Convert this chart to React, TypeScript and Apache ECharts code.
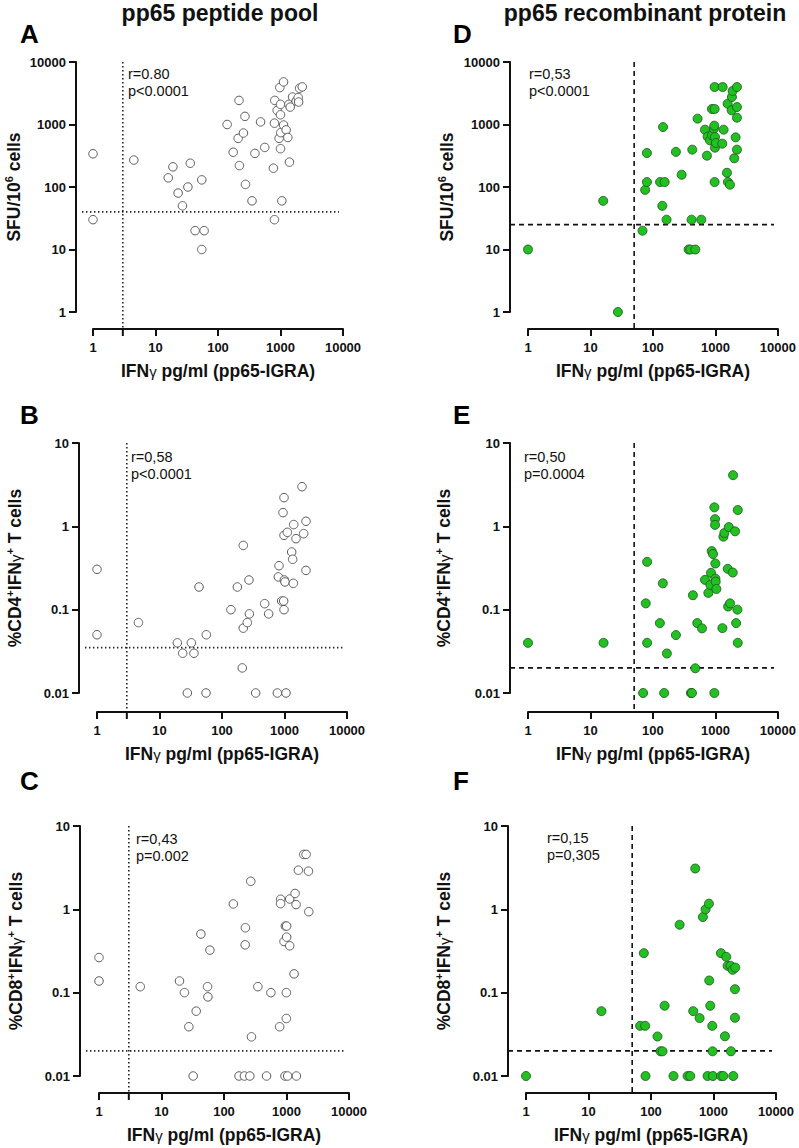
import React, { useEffect, useRef } from "react";
import * as echarts from "echarts";

const FONT = '"Liberation Sans", Arial, Helvetica, sans-serif';

// ---- Panel A: SFU/10^6 cells vs IFN-γ (peptide pool) ----
const igraA = [1, 1, 4.5, 16, 19, 23, 27, 33, 36, 43, 60, 55, 55, 140, 175, 210, 217, 220, 255, 270, 275, 350, 390, 480, 560, 770, 800, 800, 810, 885, 950, 975, 1000, 1000, 1000, 1010, 1050, 1120, 1120, 1230, 1310, 1360, 1390, 1430, 1560, 1780, 1920, 1950, 2020, 2230];
const sfuA = [340, 30, 270, 140, 210, 80, 50, 100, 240, 20, 20, 10, 130, 1000, 360, 600, 2430, 220, 730, 1350, 110, 60, 345, 1100, 430, 200, 30, 1050, 2430, 1680, 600, 3900, 2100, 1430, 410, 740, 60, 4800, 980, 820, 620, 2100, 250, 1900, 2750, 2370, 2700, 2290, 3800, 4000];

// ---- Panel B: %CD4+IFNγ+ vs IFN-γ (peptide pool) ----
const igraB = [1, 1, 4.6, 19.3, 23.5, 27.9, 32.3, 35.6, 42.9, 55.5, 56.1, 139, 176, 211, 219, 219, 254, 270, 274, 346, 482, 558, 768, 796, 817, 901, 946, 970, 982, 982, 982, 994, 1018, 1057, 1109, 1303, 1352, 1403, 1384, 1528, 1905, 2027, 2208, 2208];
const cd4B = [0.305, 0.05, 0.07, 0.04, 0.03, 0.01, 0.04, 0.03, 0.187, 0.01, 0.05, 0.1, 0.187, 0.02, 0.59, 0.06, 0.07, 0.227, 0.089, 0.01, 0.118, 0.089, 0.01, 0.247, 0.337, 0.127, 1.46, 0.127, 2.21, 0.1, 0.78, 0.227, 0.215, 0.01, 0.847, 0.492, 0.402, 1.05, 0.207, 0.711, 2.99, 0.817, 1.15, 0.296];

// ---- Panel C: %CD8+IFNγ+ vs IFN-γ (peptide pool) ----
const igraC = [1, 1, 4.57, 19.4, 23.3, 27.4, 32.1, 35.9, 42.7, 54.6, 55.3, 59.5, 141, 174, 212, 218, 220, 259, 268, 275, 348, 480, 563, 776, 805, 805, 912, 946, 958, 994, 994, 1006, 1006, 1045, 1125, 1125, 1321, 1371, 1422, 1439, 1549, 1888, 2059, 2246, 2274];
const cd8C = [0.264, 0.138, 0.118, 0.138, 0.1, 0.039, 0.01, 0.06, 0.505, 0.118, 0.089, 0.324, 1.16, 0.01, 0.01, 0.375, 0.601, 0.01, 2.17, 0.0295, 0.118, 0.01, 0.1, 0.039, 1.32, 1.17, 0.411, 0.01, 0.63, 0.1, 0.049, 0.464, 0.63, 0.01, 1.33, 0.365, 0.168, 1.55, 1.14, 0.01, 2.95, 4.56, 4.56, 2.87, 0.937];

// ---- Panel D: SFU/10^6 cells vs IFN-γ (recombinant protein) ----
const igraD = [1, 16, 27.5, 68, 75, 80, 80, 130, 141, 145, 154, 165, 233, 288, 372, 396, 415, 426, 476, 518, 593, 679, 731, 750, 817, 879, 879, 946, 958, 970, 970, 970, 982, 982, 1019, 1286, 1303, 1352, 1528, 1567, 1585, 1706, 1815, 1837, 1884, 2000, 2103, 2208, 2208, 2208, 2208];
const sfuD = [10, 60, 1, 20, 90, 120, 350, 120, 50, 910, 120, 30, 365, 157, 10, 10, 30, 396, 10, 1240, 30, 826, 317, 638, 558, 1770, 671, 858, 958, 3980, 1770, 120, 426, 631, 506, 493, 3980, 826, 169, 2153, 120, 109, 1686, 2754, 3436, 288, 623, 3980, 1905, 1285, 396];

// ---- Panel E: %CD4+IFNγ+ vs IFN-γ (recombinant protein) ----
const igraE = [1, 16.2, 69.5, 76.7, 80.6, 80.6, 129, 144, 151, 167, 233, 405, 421, 436, 476, 512, 609, 680, 770, 829, 849, 871, 914, 961, 961, 985, 985, 997, 997, 1009, 1035, 1292, 1341, 1390, 1573, 1593, 1633, 1714, 1893, 1915, 2064, 2143, 2249, 2276, 2276];
const cd4E = [0.04, 0.04, 0.01, 0.119, 0.375, 0.04, 0.069, 0.207, 0.01, 0.0298, 0.0496, 0.01, 0.01, 0.149, 0.0198, 0.069, 0.0596, 0.228, 0.159, 0.198, 0.277, 0.505, 0.465, 1.69, 0.01, 1.22, 1.04, 0.358, 0.236, 0.217, 0.177, 0.06, 0.751, 0.832, 0.309, 0.109, 0.98, 0.119, 0.279, 4.11, 0.871, 0.069, 0.1, 1.57, 0.04];

// ---- Panel F: %CD8+IFNγ+ vs IFN-γ (recombinant protein) ----
const igraF = [1, 16.1, 67, 76.8, 80.7, 81.7, 127, 142, 153, 165, 229, 287, 385, 424, 474, 510, 599, 676, 747, 804, 845, 855, 887, 955, 966, 979, 1315, 1315, 1432, 1524, 1600, 1682, 1879, 1901, 2023, 2072, 2230, 2203, 2203];
const cd8F = [0.01, 0.06, 0.04, 0.298, 0.04, 0.01, 0.0298, 0.0198, 0.0198, 0.0697, 0.01, 0.653, 0.01, 0.01, 0.06, 3.09, 0.0495, 0.809, 1, 0.01, 1.17, 0.14, 0.0697, 0.04, 0.0198, 0.01, 0.01, 0.298, 0.01, 0.03, 0.269, 0.21, 0.21, 0.0198, 0.188, 0.01, 0.2, 0.11, 0.05];

// Positivity cut-offs (x: IGRA pg/ml, y: read-out)
const cutoffX = [3, 3, 3, 50, 50, 50];
const cutoffY = [40, 0.035, 0.02, 25, 0.02, 0.02];

// Correlation statistics
const rLabels = ["r=0.80", "r=0,58", "r=0,43", "r=0,53", "r=0,50", "r=0,15"];
const pLabels = ["p<0.0001", "p<0.0001", "p=0.002", "p<0.0001", "p=0.0004", "p=0,305"];

const panelLetters = ["A", "B", "C", "D", "E", "F"];
const columnTitles = ["pp65 peptide pool", "pp65 recombinant protein"];

const X_TITLE = "{b|IFN}{g|γ}{b| pg/ml (pp65-IGRA)}";
const Y_SFU = "{b|SFU/10}{s|6}{b| cells}";
const Y_CD4 = "{b|%CD4}{s|+}{b|IFN}{g|γ}{s|+}{b| T cells}";
const Y_CD8 = "{b|%CD8}{s|+}{b|IFN}{g|γ}{s|+}{b| T cells}";

const GW = 250;
const GH = 250;

type Panel = {
  xs: number[];
  ys: number[];
  yMin: number;
  yMax: number;
  left: number;
  top: number;
  yOff: number;
  xOff: number;
  yName: string;
  yNameGap: number;
  filled: boolean;
  textX: number;
  textY: number;
  letterX: number;
  letterY: number;
};

const panels: Panel[] = [
  { xs: igraA, ys: sfuA, yMin: 1, yMax: 10000, left: 93, top: 62, yOff: 17, xOff: 17, yName: Y_SFU, yNameGap: 62, filled: false, textX: 128, textY: 74, letterX: 20, letterY: 34 },
  { xs: igraB, ys: cd4B, yMin: 0.01, yMax: 10, left: 97, top: 443, yOff: 18, xOff: 19, yName: Y_CD4, yNameGap: 64, filled: false, textX: 131, textY: 457, letterX: 20, letterY: 415 },
  { xs: igraC, ys: cd8C, yMin: 0.01, yMax: 10, left: 99, top: 826, yOff: 19, xOff: 17, yName: Y_CD8, yNameGap: 64, filled: false, textX: 136, textY: 839, letterX: 20, letterY: 781 },
  { xs: igraD, ys: sfuD, yMin: 1, yMax: 10000, left: 528, top: 62, yOff: 18, xOff: 17, yName: Y_SFU, yNameGap: 63, filled: true, textX: 529, textY: 74, letterX: 453, letterY: 34 },
  { xs: igraE, ys: cd4E, yMin: 0.01, yMax: 10, left: 528, top: 443, yOff: 18, xOff: 19, yName: Y_CD4, yNameGap: 66, filled: true, textX: 524, textY: 457, letterX: 453, letterY: 415 },
  { xs: igraF, ys: cd8F, yMin: 0.01, yMax: 10, left: 526, top: 826, yOff: 18, xOff: 17, yName: Y_CD8, yNameGap: 64, filled: true, textX: 547, textY: 838, letterX: 453, letterY: 781 },
];

const fmt = (v: number) => String(+Number(v).toPrecision(6));

const richName = {
  b: { fontFamily: FONT, fontWeight: "bold", fontSize: 17.5, color: "#111", lineHeight: 22 },
  g: { fontFamily: FONT, fontWeight: "normal", fontSize: 15, color: "#111", lineHeight: 22 },
  s: { fontFamily: FONT, fontWeight: "bold", fontSize: 11, color: "#111", lineHeight: 12, verticalAlign: "top" },
};

const axisLine = { show: true, lineStyle: { color: "#111", width: 2 } };
const axisTick = { show: true, inside: false, length: 7, lineStyle: { color: "#111", width: 2 } };
const axisLabel = { fontFamily: FONT, fontWeight: "bold", fontSize: 13, color: "#111", formatter: fmt };

function buildOption() {
  const grid = panels.map((p) => ({ left: p.left, top: p.top, width: GW, height: GH, containLabel: false }));
  const xAxis = panels.map((p, i) => ({
    type: "log",
    logBase: 10,
    gridIndex: i,
    min: 1,
    max: 10000,
    position: "bottom",
    offset: p.xOff,
    axisLine,
    axisTick,
    axisLabel: { ...axisLabel, margin: 12 },
    splitLine: { show: false },
    minorTick: { show: false },
    name: X_TITLE,
    nameLocation: "middle",
    nameGap: 42,
    nameMoveOverlap: false,
    nameTextStyle: { verticalAlign: "middle", rich: richName },
  }));
  const yAxis = panels.map((p, i) => ({
    type: "log",
    logBase: 10,
    gridIndex: i,
    min: p.yMin,
    max: p.yMax,
    position: "left",
    offset: p.yOff,
    axisLine,
    axisTick,
    axisLabel: { ...axisLabel, margin: 10 },
    splitLine: { show: false },
    minorTick: { show: false },
    name: p.yName,
    nameLocation: "middle",
    nameGap: p.yNameGap,
    nameMoveOverlap: false,
    nameTextStyle: { verticalAlign: "middle", rich: richName },
  }));
  const series = panels.map((p, i) => ({
    type: "scatter",
    xAxisIndex: i,
    yAxisIndex: i,
    clip: false,
    symbol: "circle",
    symbolSize: p.filled ? 9 : 8.5,
    itemStyle: p.filled
      ? { color: "#22c122", borderColor: "#1f4f1f", borderWidth: 0.8, opacity: 1 }
      : { color: "#ffffff", borderColor: "#5c5c5c", borderWidth: 1, opacity: 1 },
    emphasis: { disabled: true },
    data: p.xs.map((x, k) => [x, p.ys[k]]),
  }));
  return {
    animation: false,
    backgroundColor: "#ffffff",
    grid,
    xAxis,
    yAxis,
    series,
  };
}

function buildGraphics(chart: echarts.ECharts) {
  const els: any[] = [];
  // column headings
  columnTitles.forEach((t, c) => {
    els.push({
      type: "text",
      x: c === 0 ? 220 : 645,
      y: 12.5,
      silent: true,
      style: { text: t, font: `bold 23px ${FONT}`, fill: "#111", align: "center", verticalAlign: "middle" },
    });
  });
  panels.forEach((p, i) => {
    const leftCol = i < 3;
    const cx = chart.convertToPixel({ xAxisIndex: i }, cutoffX[i]) as number;
    const cy = chart.convertToPixel({ yAxisIndex: i }, cutoffY[i]) as number;
    const top = chart.convertToPixel({ yAxisIndex: i }, p.yMax) as number;
    const xAxisY = p.top + GH + p.xOff;
    const yAxisX = p.left - p.yOff;
    const refStyle = leftCol
      ? { stroke: "#222", lineWidth: 1.6, lineDash: [1.4, 2.6] }
      : { stroke: "#111", lineWidth: 1.6, lineDash: [5, 4] };
    els.push({
      type: "line",
      silent: true,
      shape: { x1: cx, y1: top, x2: cx, y2: xAxisY },
      style: refStyle,
    });
    els.push({
      type: "line",
      silent: true,
      shape: { x1: yAxisX + (leftCol ? 6 : 0), y1: cy, x2: p.left + GW - 4, y2: cy },
      style: refStyle,
    });
    if (leftCol) {
      // extra axis tick at the IGRA cut-off
      els.push({
        type: "line",
        silent: true,
        shape: { x1: cx, y1: xAxisY, x2: cx, y2: xAxisY + 7 },
        style: { stroke: "#111", lineWidth: 2 },
      });
    }
    els.push({
      type: "text",
      x: p.textX,
      y: p.textY,
      silent: true,
      style: { text: rLabels[i], font: `14.5px ${FONT}`, fill: "#111", align: "left", verticalAlign: "middle" },
    });
    els.push({
      type: "text",
      x: p.textX,
      y: p.textY + 17,
      silent: true,
      style: { text: pLabels[i], font: `14.5px ${FONT}`, fill: "#111", align: "left", verticalAlign: "middle" },
    });
    els.push({
      type: "text",
      x: p.letterX,
      y: p.letterY,
      silent: true,
      style: { text: panelLetters[i], font: `bold 26px ${FONT}`, fill: "#000", align: "left", verticalAlign: "middle" },
    });
  });
  return els;
}

export default function App() {
  const ref = useRef<HTMLDivElement>(null);
  useEffect(() => {
    if (!ref.current) return;
    document.body.style.margin = "0";
    const chart = echarts.init(ref.current, null, { renderer: "svg" });
    chart.setOption(buildOption() as any);
    chart.setOption({ graphic: { elements: buildGraphics(chart) } } as any);
    return () => chart.dispose();
  }, []);
  return (
    <div
      ref={ref}
      style={{ position: "absolute", left: 0, top: 0, width: 799, height: 1148, background: "#fff" }}
    />
  );
}
